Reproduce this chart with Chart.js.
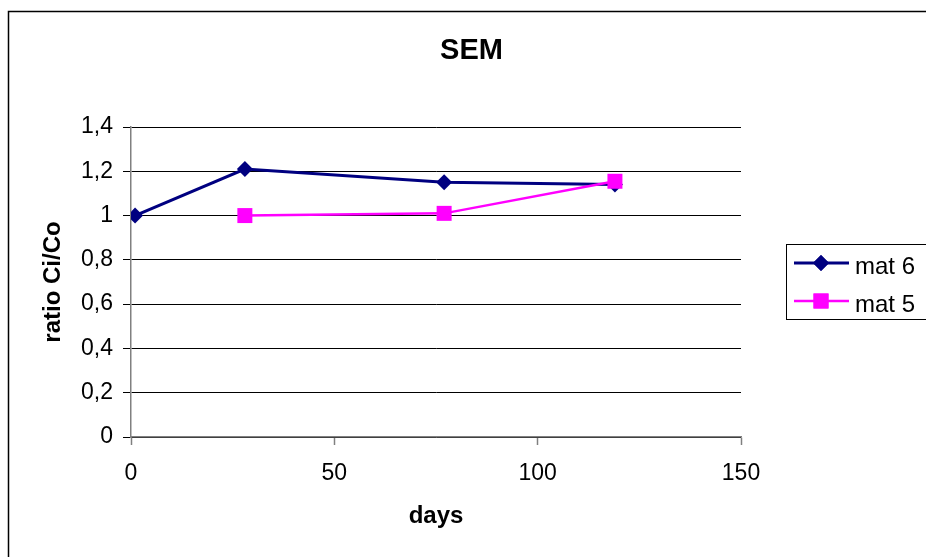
<!DOCTYPE html>
<html>
<head>
<meta charset="utf-8">
<script src="https://cdn.jsdelivr.net/npm/chart.js@4"></script>
<style>
  body { margin: 0; background: #fff; }
</style>
</head>
<body>
<canvas id="chart" width="926" height="557"></canvas>
<script>
const chartTitle = 'SEM';
const xTitle = 'days';
const yTitle = 'ratio Ci/Co';

const mat6Days = [1, 28, 77, 119];
const mat6Ratio = [1.0, 1.21, 1.15, 1.14];
const mat5Days = [28, 77, 119];
const mat5Ratio = [1.0, 1.01, 1.155];

const toPoints = (xs, ys) => xs.map((x, i) => ({x: x, y: ys[i]}));

const seriesInfo = [
    {label: 'mat 6', color: '#000080', style: 'rectRot', radius: 8, width: 3},
    {label: 'mat 5', color: '#ff00ff', style: 'rect', radius: 10.6, width: 2.5}
];

// frame, title and legend are drawn by hand like the spreadsheet layout
const decorations = {
    id: 'decorations',
    afterDraw(chart) {
        const ctx = chart.ctx;
        ctx.save();
        ctx.strokeStyle = '#000';
        ctx.lineWidth = 1.5;
        ctx.strokeRect(8.5, 11.5, 1000, 1000);

        ctx.fillStyle = '#000';
        ctx.font = 'bold 29px "Liberation Sans", Arial, sans-serif';
        ctx.textAlign = 'center';
        ctx.textBaseline = 'alphabetic';
        ctx.fillText(chartTitle, 471.5, 58.5);

        ctx.lineWidth = 1;
        ctx.strokeRect(786.5, 244.5, 200, 75);
        const rows = [263, 301];
        seriesInfo.forEach((s, i) => {
            const y = rows[i];
            ctx.strokeStyle = s.color;
            ctx.lineWidth = s.width;
            ctx.beginPath();
            ctx.moveTo(794, y);
            ctx.lineTo(849, y);
            ctx.stroke();
            ctx.fillStyle = s.color;
            Chart.helpers.drawPoint(ctx, {pointStyle: s.style, radius: s.radius, borderWidth: 0, rotation: 0}, 821, y);
            ctx.fill();
            ctx.fillStyle = '#000';
            ctx.font = '24px "Liberation Sans", Arial, sans-serif';
            ctx.textAlign = 'left';
            ctx.fillText(s.label, 855, y + 10.5);
        });
        ctx.restore();
    }
};

const tickFont = {family: '"Liberation Sans", Arial, sans-serif', size: 23};
const titleFont = {family: '"Liberation Sans", Arial, sans-serif', size: 24, weight: 'bold'};

new Chart(document.getElementById('chart'), {
    type: 'scatter',
    data: {
        datasets: [
            {
                label: seriesInfo[0].label,
                data: toPoints(mat6Days, mat6Ratio),
                showLine: true,
                borderColor: seriesInfo[0].color,
                backgroundColor: seriesInfo[0].color,
                borderWidth: seriesInfo[0].width,
                pointStyle: seriesInfo[0].style,
                pointRadius: seriesInfo[0].radius,
                pointBorderWidth: 0,
                order: 1
            },
            {
                label: seriesInfo[1].label,
                data: toPoints(mat5Days, mat5Ratio),
                showLine: true,
                borderColor: seriesInfo[1].color,
                backgroundColor: seriesInfo[1].color,
                borderWidth: seriesInfo[1].width,
                pointStyle: seriesInfo[1].style,
                pointRadius: seriesInfo[1].radius,
                pointBorderWidth: 0,
                order: 0
            }
        ]
    },
    options: {
        responsive: false,
        animation: false,
        devicePixelRatio: 1,
        layout: {padding: {top: 127, right: 185, bottom: 0, left: 0}},
        plugins: {
            legend: {display: false},
            title: {display: false},
            tooltip: {enabled: false}
        },
        scales: {
            x: {
                type: 'linear',
                min: 0,
                max: 150,
                ticks: {stepSize: 50, color: '#000', font: tickFont, padding: 15, maxRotation: 0},
                grid: {drawOnChartArea: false, drawTicks: true, tickLength: 8, tickColor: '#808080', tickWidth: 1.5},
                border: {color: '#808080', width: 1.5},
                title: {display: true, text: xTitle, color: '#000', font: titleFont, padding: {top: 0, bottom: 26}},
                afterFit(scale) { scale.height = 120; }
            },
            y: {
                min: 0,
                max: 1.4,
                ticks: {
                    stepSize: 0.2,
                    color: '#000',
                    font: tickFont,
                    padding: 10,
                    callback: v => String(Math.round(v * 10) / 10).replace('.', ',')
                },
                grid: {color: '#000', lineWidth: 1, tickLength: 8, tickColor: '#000'},
                border: {color: '#808080', width: 1.5},
                title: {display: true, text: yTitle, color: '#000', font: titleFont, padding: {top: 39, bottom: 0}},
                afterFit(scale) { scale.width = 131; }
            }
        }
    },
    plugins: [decorations]
});
</script>
</body>
</html>
